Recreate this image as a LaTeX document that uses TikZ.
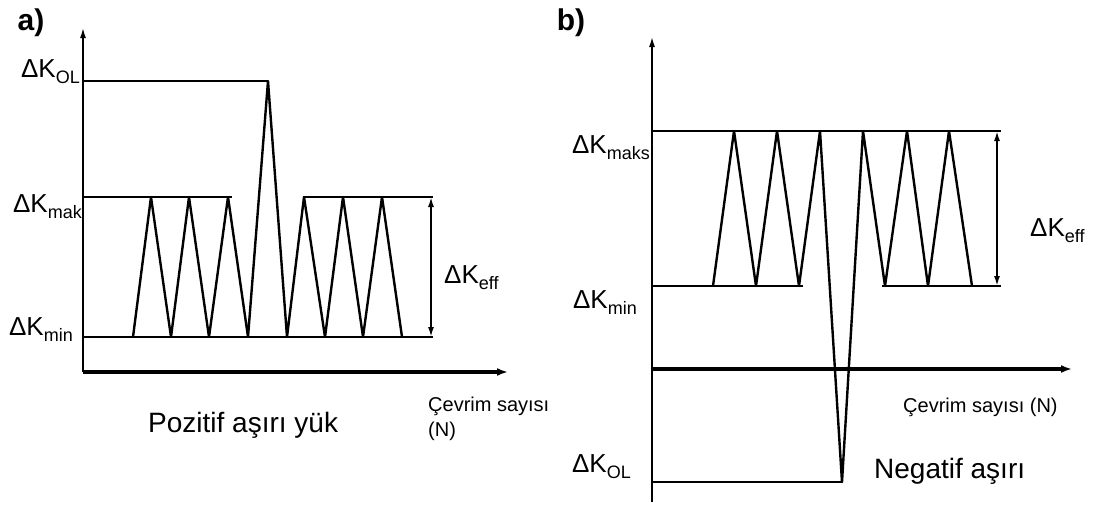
\documentclass[tikz,border=0pt]{standalone}
\usepackage{fontspec}
\setmainfont{Liberation Sans}
\usetikzlibrary{arrows.meta,positioning}
\newcommand{\dK}[1]{{\fontsize{26}{26}\selectfont ΔK}\raisebox{-6pt}{\fontsize{18}{18}\selectfont #1}}

\begin{document}
\begin{tikzpicture}[x=1pt,y=-1pt,
  lvl/.style={line width=2.2pt},
  saw/.style={line width=2.4pt, line join=round},
  yax/.style={line width=1.5pt, -{Latex[length=10pt,width=6pt]}},
  xax/.style={line width=3.4pt, -{Latex[length=11pt,width=8pt]}},
  dbl/.style={line width=1.8pt, {Latex[length=10pt,width=6pt]}-{Latex[length=10pt,width=6pt]}},
  lab/.style={inner sep=0pt}]
  \useasboundingbox (0,0) rectangle (1094,504);

  % a) positive overload
  \coordinate (oa) at (83,372);
  \draw[yax] (oa) -- (83,28);
  \draw[xax] (oa) -- (508,372);
  \draw[lvl] (83,81) -- (268,81);
  \draw[lvl] (83,197) -- (232,197);
  \draw[lvl] (303,197) -- (433,197);
  \draw[lvl] (83,337) -- (433,337);
  \draw[saw] (133,337) -- (151,197) -- (171,337) -- (189,197) -- (209,337) -- (228,197) -- (248,337)
    -- (268,81) -- (287,337) -- (304,197) -- (325,337) -- (343,197) -- (363,337) -- (382,197) -- (402,337);
  \draw[dbl] (431,197) -- (431,337);

  \node[lab, font=\fontsize{30}{30}\bfseries\selectfont] (a-tag) at (31,23) {a)};
  \node[lab, anchor=base east] (a-ol) at (80,77) {\dK{OL}};
  \node[lab, anchor=base east] (a-mak) at (82,212) {\dK{mak}};
  \node[lab, anchor=base east] (a-min) at (73,335) {\dK{min}};
  \node[lab, anchor=base west] (a-eff) at (444,283) {\dK{eff}};
  \node[lab, anchor=base west, font=\fontsize{28}{28}\selectfont] (a-title) at (148,432) {Pozitif aşırı yük};
  \node[lab, anchor=north west, align=left, font=\fontsize{20}{25}\selectfont] (a-n) at (428,397) {Çevrim sayısı\\(N)};

  % b) negative overload
  \coordinate (ob) at (652,369);
  \draw[yax] (652,502) -- (652,37);
  \draw[xax] (ob) -- (1072,369);
  \draw[lvl] (652,131) -- (1001,131);
  \draw[lvl] (652,286) -- (803,286);
  \draw[lvl] (882,286) -- (1001,286);
  \draw[lvl] (652,482) -- (842,482);
  \draw[saw] (713,286) -- (734,131) -- (756,286) -- (777,131) -- (799,286) -- (820,131)
    -- (842,482) -- (863,131) -- (885,286) -- (907,131) -- (928,286) -- (949,131) -- (972,286);
  \draw[dbl] (997,131) -- (997,286);

  \node[lab, font=\fontsize{30}{30}\bfseries\selectfont] (b-tag) at (571,23) {b)};
  \node[lab, anchor=base east] (b-maks) at (650,153) {\dK{maks}};
  \node[lab, anchor=base east] (b-min) at (637,308) {\dK{min}};
  \node[lab, anchor=base east] (b-ol) at (631,472) {\dK{OL}};
  \node[lab, anchor=base west] (b-eff) at (1030,236) {\dK{eff}};
  \node[lab, anchor=base west, font=\fontsize{20}{20}\selectfont] (b-n) at (903,412) {Çevrim sayısı (N)};
  \node[lab, anchor=base west, font=\fontsize{28}{28}\selectfont] (b-title) at (874,478) {Negatif aşırı};
\end{tikzpicture}
\end{document}
